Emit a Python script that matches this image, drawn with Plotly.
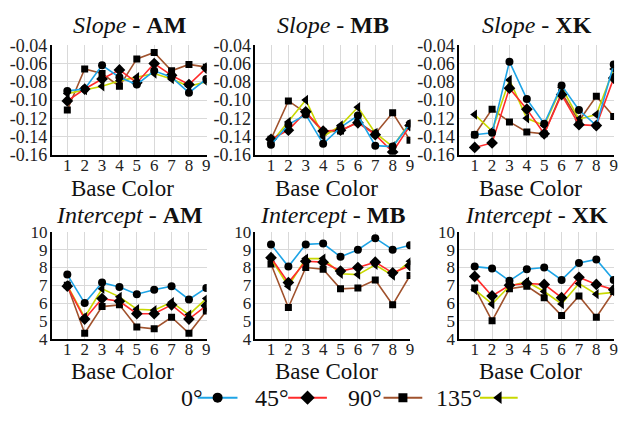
import plotly.graph_objects as go
from plotly.subplots import make_subplots

base_colors = [1, 2, 3, 4, 5, 6, 7, 8, 9]
series_names = ["0°", "45°", "90°", "135°"]
line_colors = ["#1ea4e6", "#ff2b2b", "#a0522d", "#c8d800"]
marker_symbols = ["circle", "diamond", "square", "triangle-left"]
marker_sizes = [8, 9, 7, 9]

# Slope values (rows: 0°, 45°, 90°, 135°)
slope_am = [
    [-0.090, -0.088, -0.062, -0.075, -0.083, -0.068, -0.075, -0.092, -0.077],
    [-0.101, -0.088, -0.077, -0.067, -0.081, -0.060, -0.073, -0.083, -0.065],
    [-0.111, -0.066, -0.071, -0.085, -0.055, -0.048, -0.068, -0.061, -0.064],
    [-0.093, -0.089, -0.085, -0.079, -0.075, -0.071, -0.077, -0.085, -0.080],
]
slope_mb = [
    [-0.149, -0.127, -0.116, -0.148, -0.130, -0.117, -0.150, -0.151, -0.126],
    [-0.143, -0.133, -0.113, -0.134, -0.133, -0.125, -0.138, -0.157, -0.128],
    [-0.143, -0.101, -0.114, -0.135, -0.134, -0.124, -0.137, -0.114, -0.144],
    [-0.147, -0.124, -0.100, -0.140, -0.128, -0.108, -0.136, -0.151, -0.125],
]
slope_xk = [
    [-0.138, -0.136, -0.058, -0.099, -0.126, -0.084, -0.111, -0.128, -0.061],
    [-0.152, -0.147, -0.087, -0.110, -0.137, -0.094, -0.127, -0.128, -0.076],
    [-0.138, -0.110, -0.124, -0.135, -0.137, -0.092, -0.123, -0.096, -0.118],
    [-0.116, -0.134, -0.078, -0.120, -0.128, -0.086, -0.121, -0.116, -0.066],
]
# Intercept values (rows: 0°, 45°, 90°, 135°)
intercept_am = [
    [7.6, 6.0, 7.15, 6.9, 6.5, 6.75, 6.95, 6.2, 6.85],
    [6.95, 5.1, 6.25, 6.1, 5.4, 5.4, 5.9, 5.1, 5.85],
    [7.0, 4.3, 5.8, 5.9, 4.65, 4.55, 5.2, 4.3, 5.55],
    [7.0, 5.2, 6.8, 6.35, 5.65, 5.6, 6.05, 5.35, 6.25],
]
intercept_mb = [
    [9.3, 8.05, 9.3, 9.35, 8.6, 9.0, 9.65, 9.0, 9.25],
    [8.55, 7.15, 8.35, 8.3, 7.8, 8.0, 8.3, 7.7, 8.1],
    [8.2, 5.75, 8.0, 7.9, 6.8, 6.85, 7.3, 5.9, 7.55],
    [8.5, 6.95, 8.5, 8.5, 7.65, 7.6, 8.15, 7.55, 8.35],
]
intercept_xk = [
    [8.05, 7.95, 7.25, 7.9, 8.0, 7.3, 8.25, 8.45, 7.3],
    [7.5, 6.4, 7.0, 7.1, 7.05, 6.3, 7.45, 7.05, 6.75],
    [6.85, 5.0, 6.8, 6.95, 6.3, 5.3, 6.4, 5.2, 6.65],
    [6.75, 5.95, 6.95, 7.2, 6.65, 5.95, 7.1, 6.5, 6.6],
]

panels = [
    ("Slope", "AM", slope_am), ("Slope", "MB", slope_mb), ("Slope", "XK", slope_xk),
    ("Intercept", "AM", intercept_am), ("Intercept", "MB", intercept_mb), ("Intercept", "XK", intercept_xk),
]
slope_ticks = [-0.04, -0.06, -0.08, -0.10, -0.12, -0.14, -0.16]
slope_ticktext = ["-0.04", "-0.06", "-0.08", "-0.10", "-0.12", "-0.14", "-0.16"]
intercept_ticks = [4, 5, 6, 7, 8, 9, 10]

W, H = 628, 421
FONT = "Liberation Serif"
x_doms = [(52, 208), (257, 413), (462, 618)]
y_doms = [(37, 152), (233, 345)]
base_label_y = [187, 380]
ytick_sizes = [18, 17]

fig = make_subplots(rows=2, cols=3)

draw_order = [2, 3, 1, 0]
for p, (kind, who, data) in enumerate(panels):
    r, c = p // 3 + 1, p % 3 + 1
    for s in draw_order:
        fig.add_trace(go.Scatter(
            x=base_colors, y=data[s], mode="lines+markers", name=series_names[s],
            line=dict(color=line_colors[s], width=1.6),
            marker=dict(color="black", symbol=marker_symbols[s], size=marker_sizes[s]),
            showlegend=False), row=r, col=c)

for p in range(6):
    r, c = p // 3, p % 3
    xa = "xaxis" if p == 0 else f"xaxis{p+1}"
    ya = "yaxis" if p == 0 else f"yaxis{p+1}"
    x0, x1 = x_doms[c]
    y0, y1 = y_doms[r]
    fig.layout[xa].update(domain=[x0 / W, x1 / W], range=[0.1, 9.02],
                          tickvals=base_colors, showgrid=True, gridcolor="#d9d9d9",
                          showline=True, linecolor="black", linewidth=1.5,
                          ticks="", zeroline=False, ticklabelstandoff=-6,
                          tickfont=dict(family=FONT, size=17, color="#222"))
    if r == 0:
        fig.layout[ya].update(domain=[1 - y1 / H, 1 - y0 / H], range=[-0.16, -0.04],
                              tickvals=slope_ticks, ticktext=slope_ticktext)
    else:
        fig.layout[ya].update(domain=[1 - y1 / H, 1 - y0 / H], range=[4, 10],
                              tickvals=intercept_ticks)
    fig.layout[ya].update(showgrid=True, gridcolor="#d9d9d9", showline=True,
                          linecolor="black", linewidth=1.5, ticks="", zeroline=False,
                          mirror=False, ticklabelstandoff=-1,
                          tickfont=dict(family=FONT, size=ytick_sizes[r], color="#222"))
    kind, who, _ = panels[p]
    cx = (x0 + x1) / 2 / W
    fig.add_annotation(text=f"<i>{kind}</i> - <b>{who}</b>", xref="paper", yref="paper",
                       x=cx, y=1 - (16 if r == 0 else 215) / H, showarrow=False,
                       xanchor="center", yanchor="middle",
                       font=dict(family=FONT, size=24, color="#111"))
    fig.add_annotation(text="Base Color", xref="paper", yref="paper",
                       x=(x0 + x1) / 2 / W - 0.01, y=1 - base_label_y[r] / H,
                       showarrow=False, xanchor="center", yanchor="middle",
                       font=dict(family=FONT, size=23, color="#111"))

# legend strip (custom, text before symbol)
leg_text_x = [193, 274, 367, 462]
leg_line = [(199, 239), (290, 329), (386, 425), (483, 521)]
for s in range(4):
    lx0, lx1 = leg_line[s]
    fig.add_trace(go.Scatter(x=[lx0, lx1], y=[0, 0], mode="lines",
                             line=dict(color=line_colors[s], width=2),
                             xaxis="x7", yaxis="y7", showlegend=False, hoverinfo="skip"))
    fig.add_trace(go.Scatter(x=[(lx0 + lx1) / 2], y=[0], mode="markers",
                             marker=dict(color="black", symbol=marker_symbols[s],
                                         size=marker_sizes[s] + 2),
                             xaxis="x7", yaxis="y7", showlegend=False, hoverinfo="skip"))
    fig.add_annotation(text=series_names[s], xref="x7", yref="y7", x=leg_text_x[s], y=0,
                       showarrow=False, xanchor="center", yanchor="middle",
                       font=dict(family=FONT, size=24, color="#111"))

fig.update_layout(
    xaxis7=dict(domain=[0, 1], range=[0, W], visible=False),
    yaxis7=dict(domain=[1 - 421 / H, 1 - 393 / H], range=[-1, 1], visible=False),
    width=W, height=H, margin=dict(l=0, r=0, t=0, b=0),
    paper_bgcolor="white", plot_bgcolor="white", showlegend=False,
)

fig.write_html("out.html", config={"displayModeBar": False},
               post_script="document.body.style.margin='0';")
